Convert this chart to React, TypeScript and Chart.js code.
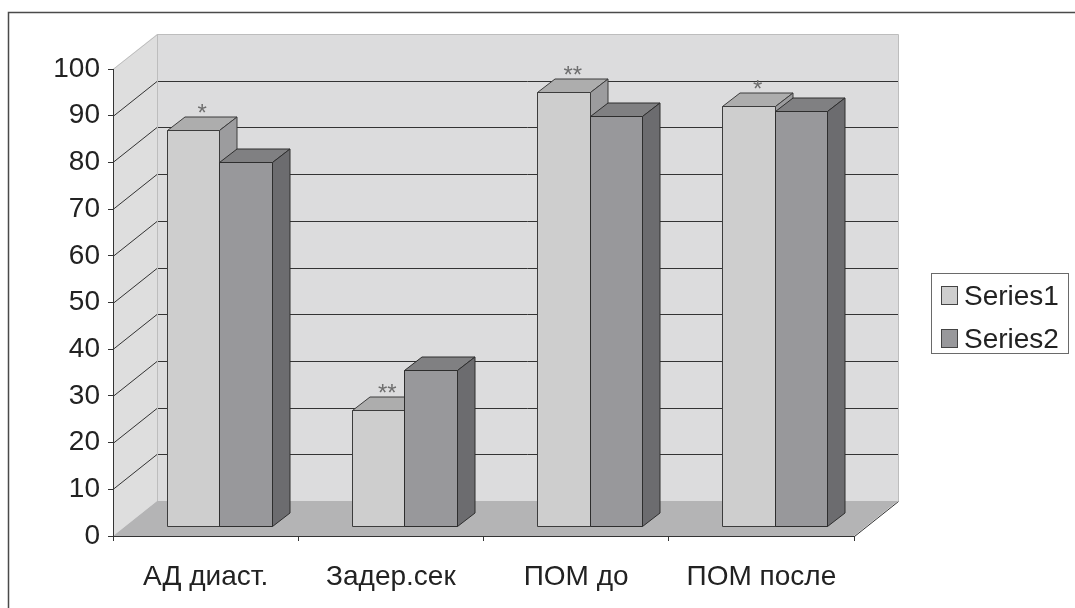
import React, { useEffect, useRef } from "react";
import { Chart, registerables } from "chart.js";

Chart.register(...registerables);

// ---- data ----
const categories = ["АД диаст.", "Задер.сек", "ПОМ до", "ПОМ после"];
const seriesNames = ["Series1", "Series2"];
const series1 = [85, 25, 93, 90];
const series2 = [78, 33.5, 88, 89];
const series1Marks = ["*", "**", "**", "*"];
const yMin = 0;
const yMax = 100;
const yStep = 10;

// ---- look ----
const FONT = '"Liberation Sans", Arial, sans-serif';
const WALL_DX = 44; // depth of the plot box
const WALL_DY = -35;
const BAR_OFF_X = 13.5; // bars sit a little behind the front plane
const BAR_OFF_Y = -9.5;
const BAR_DX = 17.5; // depth of one column
const BAR_DY = -13.5;

const faceColors = [
  { front: "#cecece", top: "#adadad", side: "#9c9c9e", edge: "#3c3c3c" },
  { front: "#98989b", top: "#808082", side: "#6c6c6f", edge: "#2e2e2e" },
];

const box3d = {
  id: "box3d",
  beforeDraw(chart: any) {
    const { ctx, chartArea: a, scales } = chart;
    const y = scales.y;
    const W = chart.width;
    const H = chart.height;
    ctx.save();
    ctx.fillStyle = "#ffffff";
    ctx.fillRect(0, 0, W, H);

    // outer frame
    ctx.strokeStyle = "#4a4a4a";
    ctx.lineWidth = 1.5;
    ctx.beginPath();
    ctx.moveTo(8.5, H);
    ctx.lineTo(8.5, 12.5);
    ctx.lineTo(W, 12.5);
    ctx.stroke();

    const top = y.getPixelForValue(yMax);
    const bot = y.getPixelForValue(yMin);
    const L = a.left;
    const R = a.right;

    // side wall
    ctx.fillStyle = "#dedede";
    ctx.beginPath();
    ctx.moveTo(L, top);
    ctx.lineTo(L + WALL_DX, top + WALL_DY);
    ctx.lineTo(L + WALL_DX, bot + WALL_DY);
    ctx.lineTo(L, bot);
    ctx.closePath();
    ctx.fill();

    // back wall
    ctx.fillStyle = "#dcdcdd";
    ctx.fillRect(L + WALL_DX, top + WALL_DY, R - L, bot - top);

    // floor
    ctx.fillStyle = "#b4b4b5";
    ctx.beginPath();
    ctx.moveTo(L, bot);
    ctx.lineTo(L + WALL_DX, bot + WALL_DY);
    ctx.lineTo(R + WALL_DX, bot + WALL_DY);
    ctx.lineTo(R, bot);
    ctx.closePath();
    ctx.fill();

    // gridlines on the walls
    ctx.lineWidth = 1;
    ctx.strokeStyle = "#333333";
    for (const t of y.ticks) {
      if (t.value <= yMin || t.value >= yMax) continue;
      const py = Math.round(y.getPixelForValue(t.value)) + 0.5;
      ctx.beginPath();
      ctx.moveTo(L, py);
      ctx.lineTo(L + WALL_DX, py + WALL_DY);
      ctx.lineTo(R + WALL_DX, py + WALL_DY);
      ctx.stroke();
    }

    // light wall edges
    ctx.strokeStyle = "#bdbdbd";
    ctx.beginPath();
    ctx.moveTo(L, top + 0.5);
    ctx.lineTo(L + WALL_DX + 0.5, top + WALL_DY + 0.5);
    ctx.lineTo(R + WALL_DX + 0.5, top + WALL_DY + 0.5);
    ctx.lineTo(R + WALL_DX + 0.5, bot + WALL_DY);
    ctx.moveTo(L + WALL_DX + 0.5, top + WALL_DY);
    ctx.lineTo(L + WALL_DX + 0.5, bot + WALL_DY);
    ctx.stroke();

    // right floor edge
    ctx.strokeStyle = "#333333";
    ctx.beginPath();
    ctx.moveTo(R + 0.5, bot + 0.5);
    ctx.lineTo(R + WALL_DX + 0.5, bot + WALL_DY + 0.5);
    ctx.stroke();
    ctx.restore();
  },
  beforeDatasetsDraw(chart: any) {
    const { ctx } = chart;
    ctx.save();
    ctx.lineWidth = 1;
    ctx.lineJoin = "miter";
    const metas = chart.data.datasets.map((_: any, d: number) => chart.getDatasetMeta(d));
    const tops: { x: number; y: number }[] = [];
    categories.forEach((_, i) => {
      metas.forEach((meta: any, d: number) => {
        const el = meta.data[i];
        if (!el) return;
        const p = el.getProps(["x", "y", "base", "width"], true);
        const c = faceColors[d];
        const l = Math.round(p.x - p.width / 2 + BAR_OFF_X) + 0.5;
        const r = Math.round(p.x + p.width / 2 + BAR_OFF_X) + 0.5;
        const t = Math.round(p.y + BAR_OFF_Y) + 0.5;
        const b = Math.round(p.base + BAR_OFF_Y) + 0.5;
        ctx.strokeStyle = c.edge;
        // front face
        ctx.fillStyle = c.front;
        ctx.beginPath();
        ctx.rect(l, t, r - l, b - t);
        ctx.fill();
        ctx.stroke();
        // top face
        ctx.fillStyle = c.top;
        ctx.beginPath();
        ctx.moveTo(l, t);
        ctx.lineTo(l + BAR_DX, t + BAR_DY);
        ctx.lineTo(r + BAR_DX, t + BAR_DY);
        ctx.lineTo(r, t);
        ctx.closePath();
        ctx.fill();
        ctx.stroke();
        // side face
        ctx.fillStyle = c.side;
        ctx.beginPath();
        ctx.moveTo(r, t);
        ctx.lineTo(r + BAR_DX, t + BAR_DY);
        ctx.lineTo(r + BAR_DX, b + BAR_DY);
        ctx.lineTo(r, b);
        ctx.closePath();
        ctx.fill();
        ctx.stroke();
        if (d === 0) tops[i] = { x: (l + r) / 2 + BAR_DX / 2, y: t + BAR_DY };
      });
    });
    // significance marks over Series1
    ctx.fillStyle = "#6e6e6e";
    ctx.font = `24px ${FONT}`;
    ctx.textAlign = "center";
    ctx.textBaseline = "alphabetic";
    series1Marks.forEach((m, i) => {
      const tp = tops[i];
      if (tp && m) ctx.fillText(m, tp.x, tp.y + 4);
    });
    ctx.restore();
    return false;
  },
  afterDraw(chart: any) {
    const { ctx } = chart;
    ctx.save();
    const bx = 931.5;
    const by = 273.5;
    const bw = 137;
    const bh = 80;
    ctx.fillStyle = "#ffffff";
    ctx.fillRect(bx, by, bw, bh);
    ctx.strokeStyle = "#6a6a6a";
    ctx.lineWidth = 1;
    ctx.strokeRect(bx, by, bw, bh);
    ctx.font = `28px ${FONT}`;
    ctx.textBaseline = "middle";
    ctx.textAlign = "left";
    chart.data.datasets.forEach((ds: any, d: number) => {
      const cy = 296 + d * 43;
      ctx.fillStyle = ds.backgroundColor;
      ctx.fillRect(941.5, cy - 9.5, 16, 18);
      ctx.strokeStyle = "#444444";
      ctx.strokeRect(941.5, cy - 9.5, 16, 18);
      ctx.fillStyle = "#222222";
      ctx.fillText(ds.label, 964, cy + 1);
    });
    ctx.restore();
  },
};

export default function App() {
  const ref = useRef<HTMLCanvasElement | null>(null);
  useEffect(() => {
    if (!ref.current) return;
    const chart = new Chart(ref.current, {
      type: "bar",
      data: {
        labels: categories,
        datasets: [
          { label: seriesNames[0], data: series1, backgroundColor: faceColors[0].front },
          { label: seriesNames[1], data: series2, backgroundColor: faceColors[1].front },
        ],
      },
      options: {
        responsive: false,
        animation: false,
        events: [],
        layout: { padding: { left: 0, top: 69, right: 221, bottom: 0 } },
        datasets: { bar: { barPercentage: 1, categoryPercentage: 0.567 } },
        plugins: { legend: { display: false }, tooltip: { enabled: false } },
        scales: {
          x: {
            grid: { drawOnChartArea: false, tickLength: 5, color: "#333333", offset: true },
            border: { color: "#333333" },
            ticks: { color: "#222222", padding: 19, font: { family: FONT, size: 28 } },
            afterFit(s: any) {
              s.height = 72;
            },
          },
          y: {
            min: yMin,
            max: yMax,
            grid: { drawOnChartArea: false, tickLength: 5, color: "#333333" },
            border: { color: "#333333" },
            ticks: { stepSize: yStep, color: "#222222", padding: 8, font: { family: FONT, size: 28 } },
            afterFit(s: any) {
              s.width = 113;
            },
          },
        },
      },
      plugins: [box3d],
    });
    return () => chart.destroy();
  }, []);
  return (
    <div style={{ position: "absolute", left: 0, top: 0, width: 1075, height: 608 }}>
      <canvas ref={ref} width={1075} height={608} style={{ display: "block" }} />
    </div>
  );
}
